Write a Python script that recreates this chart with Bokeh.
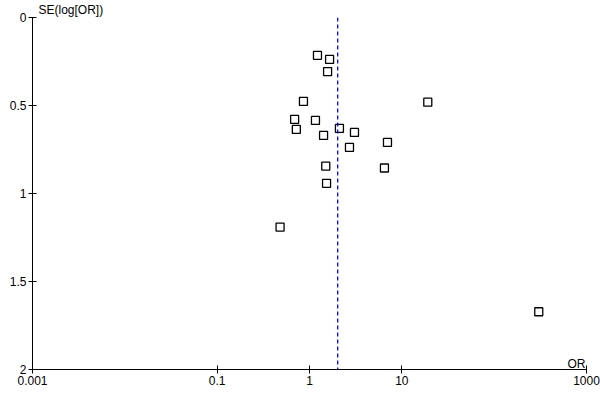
from bokeh.plotting import figure
from bokeh.models import Range1d, Span, Label, FixedTicker
from bokeh.embed import file_html
from bokeh.resources import INLINE

# Study odds ratios and standard errors of log(OR)
odds_ratio = [1.22, 1.65, 1.57, 0.86, 19.1, 0.69, 1.16, 0.72, 2.11, 3.07,
              1.42, 6.99, 2.71, 1.50, 6.48, 1.53, 0.48, 304.0]
se_log_or = [0.215, 0.238, 0.307, 0.477, 0.481, 0.579, 0.585, 0.636, 0.630, 0.653,
             0.670, 0.710, 0.738, 0.845, 0.855, 0.942, 1.191, 1.672]
pooled_or = 2.02

x_ticks = [0.001, 0.1, 1, 10, 1000]
x_tick_labels = ["0.001", "0.1", "1", "10", "1000"]
y_ticks = [0, 0.5, 1, 1.5, 2]
y_tick_labels = ["0", "0.5", "1", "1.5", "2"]

FONT = "Liberation Sans"

p = figure(width=600, height=400, x_axis_type="log", y_axis_type="linear",
           x_range=Range1d(0.001, 1000), y_range=Range1d(2, 0),
           output_backend="svg", toolbar_location=None,
           title="SE(log[OR])", title_location="above",
           min_border_left=32, min_border_right=14, min_border_top=16, min_border_bottom=31)
p.outline_line_color = None
p.background_fill_color = "white"
p.border_fill_color = "white"
p.grid.visible = False

p.title.align = "left"
p.title.offset = 6
p.title.standoff = 1
p.title.text_font = FONT
p.title.text_font_size = "12px"
p.title.text_font_style = "normal"
p.title.text_color = "black"

xaxis = p.xaxis[0]
yaxis = p.yaxis[0]
xaxis.ticker = FixedTicker(ticks=x_ticks)
xaxis.major_label_overrides = {t: l for t, l in zip(x_ticks, x_tick_labels)}
yaxis.ticker = FixedTicker(ticks=y_ticks)
yaxis.major_label_overrides = {t: l for t, l in zip(y_ticks, y_tick_labels)}
for ax in (xaxis, yaxis):
    ax.axis_line_color = "black"
    ax.axis_line_width = 1
    ax.major_tick_line_color = "black"
    ax.major_tick_in = 4
    ax.major_tick_out = 4
    ax.minor_tick_line_color = None
    ax.major_label_text_font = FONT
    ax.major_label_text_font_size = "12px"
    ax.major_label_text_color = "black"
    ax.major_label_standoff = 2

p.add_layout(Span(location=pooled_or, dimension="height", line_color="#0000ff",
                  line_dash="4 3", line_width=1.3))

p.scatter(odds_ratio, se_log_or, marker="square", size=8, fill_color="white",
          line_color="black", line_width=1.3)

p.add_layout(Label(x=1000, y=2, text="OR", x_offset=-1, y_offset=6,
                   text_baseline="alphabetic", text_align="right",
                   text_font=FONT, text_font_size="12px", text_color="black"))

open("out.html", "w").write(file_html(p, INLINE))
